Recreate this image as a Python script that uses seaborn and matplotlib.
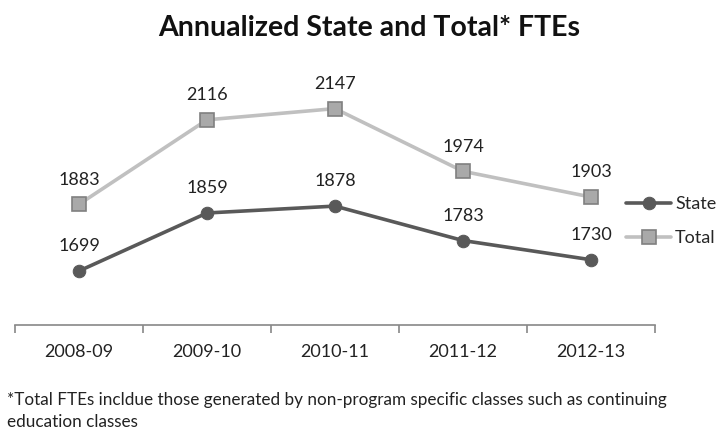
import pandas as pd
import seaborn as sns
import matplotlib.pyplot as plt

# Datos
years = ['2008-09', '2009-10', '2010-11', '2011-12', '2012-13']
state = [1699, 1859, 1878, 1783, 1730]
total = [1883, 2116, 2147, 1974, 1903]

sns.set_style("white")
plt.rcParams['font.family'] = ['Lato', 'DejaVu Sans']

fig = plt.figure(figsize=(7.24, 4.36), dpi=100)
ax = fig.add_axes([15 / 724, 1 - 325 / 436, 640 / 724, 0.582])

df = pd.DataFrame({'year': years, 'State': state, 'Total': total})
x = list(range(len(years)))

sns.lineplot(x=x, y=df['State'], ax=ax, color='#595959', lw=2.6,
             marker='o', markersize=9, markeredgecolor='#595959',
             markerfacecolor='#595959', label='State')
sns.lineplot(x=x, y=df['Total'], ax=ax, color='#c0c0c0', lw=2.6,
             marker='s', markersize=10, markeredgecolor='#808080',
             markeredgewidth=1.2, markerfacecolor='#a9a9a9', label='Total')

for col in ['State', 'Total']:
    for i, v in enumerate(df[col]):
        ax.annotate(str(v), (i, v), xytext=(0, 12), textcoords='offset points',
                    ha='center', va='bottom', fontsize=13, color='#222222')

ax.set_xlim(-0.5, 4.5)
ax.set_ylim(1550, 2250)
ax.set_xticks(x)
ax.set_xticklabels(years, fontsize=13, color='#222222')
ax.set_xticks([i - 0.5 for i in range(6)], minor=True)
ax.tick_params(axis='x', which='major', length=0, pad=14)
ax.tick_params(axis='x', which='minor', length=6, direction='out',
               color='#888888', width=1.2, bottom=True)
ax.set_yticks([])
ax.set_xlabel('')
ax.set_ylabel('')
for s in ['top', 'right', 'left']:
    ax.spines[s].set_visible(False)
ax.spines['bottom'].set_color('#888888')
ax.spines['bottom'].set_linewidth(1.2)

leg = ax.legend(loc='center left', bbox_to_anchor=(0.955, 0.41), frameon=False,
                fontsize=13, handlelength=2.5, handletextpad=0.2, labelspacing=1.0,
                borderpad=0, borderaxespad=0)

fig.text(0.51, 0.935, 'Annualized State and Total* FTEs', ha='center', va='center',
         fontsize=20.5, fontweight='bold', color='#111111')
fig.text(0.01, 0.083, '*Total FTEs incldue those generated by non-program specific classes such as continuing',
         ha='left', va='center', fontsize=12.3, color='#222222')
fig.text(0.01, 0.033, 'education classes', ha='left', va='center', fontsize=12.3, color='#222222')

fig.savefig('out.png', dpi=100)
